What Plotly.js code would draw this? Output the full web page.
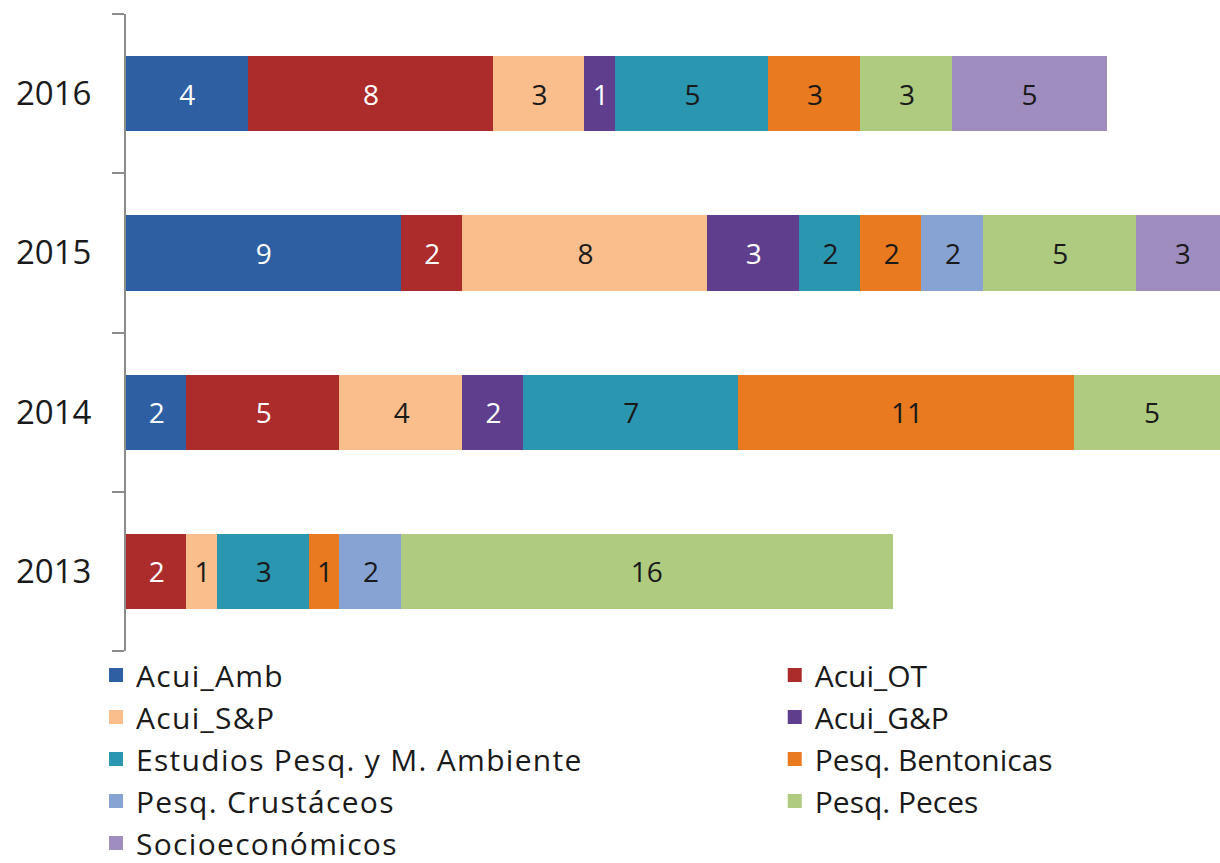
<!DOCTYPE html>
<html>
<head>
<meta charset="utf-8">
<script src="https://cdn.plot.ly/plotly-3.0.1.min.js"></script>
<style>
html,body{margin:0;padding:0;background:#fff;}
#chart{width:1220px;height:863px;}
.legendtext{letter-spacing:1.3px;}
</style>
</head>
<body>
<div id="chart"></div>
<script>
const years = ['2013', '2014', '2015', '2016'];

const seriesNames = ['Acui_Amb', 'Acui_OT', 'Acui_S&P', 'Acui_G&P', 'Estudios Pesq. y M. Ambiente',
  'Pesq. Bentonicas', 'Pesq. Crustáceos', 'Pesq. Peces', 'Socioeconómicos'];

const acuiAmb      = [null, 2, 9, 4];
const acuiOT       = [2, 5, 2, 8];
const acuiSP       = [1, 4, 8, 3];
const acuiGP       = [null, 2, 3, 1];
const estudios     = [3, 7, 2, 5];
const bentonicas   = [1, 11, 2, 3];
const crustaceos   = [2, null, 2, null];
const peces        = [16, 5, 5, 3];
const socioeco     = [null, null, 3, 5];

const seriesValues = [acuiAmb, acuiOT, acuiSP, acuiGP, estudios, bentonicas, crustaceos, peces, socioeco];

const colors = ['#2E5FA3', '#AC2C2C', '#F9BE8C', '#5F3E8E', '#2B96B0', '#EA7A20', '#86A3D4', '#AECB80', '#A08DC0'];
const textColors = ['#ffffff', '#ffffff', '#1a1a1a', '#ffffff', '#1a1a1a', '#1a1a1a', '#1a1a1a', '#1a1a1a', '#1a1a1a'];
const legendOf = ['legend', 'legend2', 'legend', 'legend2', 'legend', 'legend2', 'legend', 'legend2', 'legend'];

const FONT = '"Open Sans", "Noto Sans", sans-serif';

const traces = seriesNames.map((name, i) => ({
  type: 'bar',
  orientation: 'h',
  name: name,
  y: years,
  x: seriesValues[i],
  marker: {color: colors[i], line: {width: 2, color: colors[i]}},
  texttemplate: '%{x}',
  textposition: 'inside',
  insidetextanchor: 'middle',
  textangle: 0,
  constraintext: 'none',
  textfont: {family: FONT, size: 28, color: textColors[i]},
  hoverinfo: 'name+x',
  legend: legendOf[i]
}));

const legendBase = {
  orientation: 'v',
  traceorder: 'normal',
  font: {family: FONT, size: 30, color: '#1a1a1a'},
  bgcolor: 'rgba(0,0,0,0)',
  borderwidth: 0,
  yanchor: 'top',
  xanchor: 'left',
  y: 0.003
};

const layout = {
  width: 1220,
  height: 863,
  margin: {l: 126, r: 0, t: 14, b: 212, pad: 0, autoexpand: false},
  paper_bgcolor: '#ffffff',
  plot_bgcolor: '#ffffff',
  barmode: 'stack',
  bargap: 0.54,
  showlegend: true,
  font: {family: FONT, color: '#1a1a1a'},
  xaxis: {
    range: [0, 35.72],
    visible: false,
    showgrid: false,
    zeroline: false,
    fixedrange: true
  },
  yaxis: {
    type: 'category',
    categoryorder: 'array',
    categoryarray: years,
    showline: true,
    linecolor: '#8c8c8c',
    linewidth: 2,
    ticks: 'outside',
    tickson: 'boundaries',
    ticklen: 12,
    tickwidth: 2,
    tickcolor: '#8c8c8c',
    ticklabelstandoff: 26,
    tickfont: {family: FONT, size: 33, color: '#1a1a1a'},
    showgrid: false,
    zeroline: false,
    fixedrange: true
  },
  legend: Object.assign({}, legendBase, {x: -0.0274}),
  legend2: Object.assign({}, legendBase, {x: 0.593})
};

Plotly.newPlot('chart', traces, layout, {displayModeBar: false, staticPlot: true});
</script>
</body>
</html>
